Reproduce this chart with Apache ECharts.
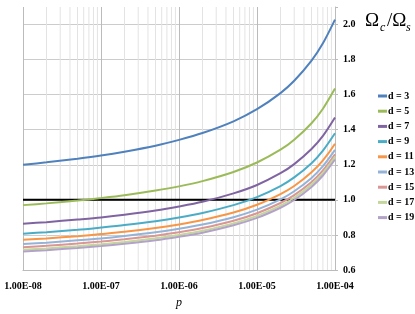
<!DOCTYPE html>
<html><head><meta charset="utf-8">
<script src="https://cdn.jsdelivr.net/npm/echarts@6/dist/echarts.min.js"></script>
<style>html,body{margin:0;padding:0;background:#fff}#c{width:415px;height:314px}</style>
</head><body><div id="c"></div>
<script>
// Probability values (x axis, log scale)
const pValues = [1e-8, 2e-8, 5e-8, 1e-7, 2e-7, 5e-7, 1e-6, 2e-6, 5e-6, 1e-5, 2e-5, 3e-5, 5e-5, 7e-5, 1e-4];
// Omega_c / Omega_s for each d
const d3  = [1.200, 1.214, 1.235, 1.253, 1.275, 1.309, 1.342, 1.381, 1.448, 1.517, 1.609, 1.679, 1.794, 1.893, 2.028];
const d5  = [0.970, 0.980, 0.996, 1.010, 1.026, 1.053, 1.077, 1.107, 1.159, 1.213, 1.286, 1.343, 1.437, 1.520, 1.635];
const d7  = [0.864, 0.873, 0.888, 0.900, 0.915, 0.939, 0.962, 0.989, 1.037, 1.085, 1.152, 1.204, 1.290, 1.365, 1.470];
const d9  = [0.807, 0.816, 0.829, 0.842, 0.856, 0.878, 0.899, 0.925, 0.970, 1.016, 1.079, 1.128, 1.209, 1.281, 1.380];
const d11 = [0.772, 0.780, 0.793, 0.805, 0.818, 0.840, 0.860, 0.885, 0.928, 0.972, 1.033, 1.079, 1.157, 1.225, 1.320];
const d13 = [0.748, 0.756, 0.769, 0.780, 0.794, 0.815, 0.835, 0.859, 0.901, 0.944, 1.003, 1.049, 1.125, 1.192, 1.285];
const d15 = [0.730, 0.738, 0.751, 0.762, 0.775, 0.796, 0.815, 0.839, 0.881, 0.924, 0.982, 1.027, 1.102, 1.168, 1.260];
const d17 = [0.715, 0.723, 0.736, 0.747, 0.760, 0.781, 0.800, 0.824, 0.866, 0.909, 0.967, 1.012, 1.087, 1.153, 1.245];
const d19 = [0.705, 0.713, 0.726, 0.737, 0.750, 0.770, 0.790, 0.813, 0.855, 0.897, 0.955, 0.999, 1.074, 1.139, 1.230];
const seriesNames = ['d = 3', 'd = 5', 'd = 7', 'd = 9', 'd = 11', 'd = 13', 'd = 15', 'd = 17', 'd = 19'];
const seriesValues = [d3, d5, d7, d9, d11, d13, d15, d17, d19];
const seriesColors = ['#4F81BD', '#9BBB59', '#8064A2', '#4BACC6', '#F79646', '#95B3D7', '#D99694', '#C3D69B', '#B3A2C7'];
const xTickLabels = ['1.00E-08', '1.00E-07', '1.00E-06', '1.00E-05', '1.00E-04'];
const referenceLevel = 1.0;
const yMin = 0.6, yMax = 2.1;

const FONT = "'Liberation Serif','Times New Roman',serif";
const minorGrid = [];
for (let e = -8; e < -4; e++) for (let m = 2; m <= 9; m++) minorGrid.push(m * Math.pow(10, e));

const chart = echarts.init(document.getElementById('c'), null, {renderer: 'canvas'});
const series = [];
// minor log gridlines (drawn through the axis scale)
minorGrid.forEach(v => series.push({
  type: 'line', silent: true, symbol: 'none', z: 1, data: [[v, yMin], [v, yMax]],
  lineStyle: {color: '#e3e3e3', width: 1}
}));
// reference line at 1.0
series.push({
  type: 'line', silent: true, symbol: 'none', z: 2, data: [[1e-8, referenceLevel], [1e-4, referenceLevel]],
  lineStyle: {color: '#000', width: 2}
});
seriesNames.forEach((n, i) => series.push({
  name: n, type: 'line', smooth: 0.3, symbol: 'none', showSymbol: false, z: 3,
  data: pValues.map((p, j) => [p, seriesValues[i][j]]),
  lineStyle: {width: 2, color: seriesColors[i]}, itemStyle: {color: seriesColors[i]}
}));

chart.setOption({
  animation: false,
  grid: {left: 23, right: 80, top: 7, bottom: 36, containLabel: false},
  xAxis: {
    type: 'log', logBase: 10, min: 1e-8, max: 1e-4,
    name: 'p', nameLocation: 'middle', nameGap: 27,
    nameTextStyle: {fontFamily: FONT, fontStyle: 'italic', fontSize: 12, color: '#000'},
    axisLine: {show: true, lineStyle: {color: '#bbbbbb', width: 1}},
    axisTick: {show: false},
    axisLabel: {fontFamily: FONT, fontWeight: 'bold', fontSize: 10, color: '#000', margin: 11,
      formatter: v => xTickLabels[Math.round(Math.log10(v)) + 8]},
    splitLine: {show: true, lineStyle: {color: '#bbbbbb', width: 1}}
  },
  yAxis: {
    type: 'value', position: 'right', min: yMin, max: yMax, interval: 0.2,
    axisLine: {show: true, lineStyle: {color: '#bbbbbb', width: 1}},
    axisTick: {show: true, inside: false, length: 3, lineStyle: {color: '#bbbbbb'}},
    axisLabel: {fontFamily: FONT, fontWeight: 'bold', fontSize: 10, color: '#000', margin: 8,
      formatter: v => (Math.abs(v - 2.1) < 1e-6 ? '' : v.toFixed(1))},
    splitLine: {show: true, lineStyle: {width: 1,
      color: ['#cccccc', '#cccccc', '#cccccc', '#cccccc', '#cccccc', '#cccccc', '#cccccc', '#cccccc', 'rgba(0,0,0,0)']}}
  },
  legend: {
    orient: 'vertical', left: 373, top: 85, itemWidth: 9, itemHeight: 3, itemGap: 3.2, icon: 'rect',
    textStyle: {fontFamily: FONT, fontWeight: 'bold', fontSize: 10, color: '#000', lineHeight: 12, padding: [0, 0, 0, -4]},
    data: seriesNames
  },
  graphic: [
    {type: 'text', x: 365, y: 21, style: {text: 'Ω', font: "19px " + FONT, fill: '#000', verticalAlign: 'middle'}},
    {type: 'text', x: 380, y: 28, style: {text: 'c', font: "italic 12px " + FONT, fill: '#000', verticalAlign: 'middle'}},
    {type: 'text', x: 387, y: 21, style: {text: '/Ω', font: "19px " + FONT, fill: '#000', verticalAlign: 'middle'}},
    {type: 'text', x: 406, y: 28, style: {text: 's', font: "italic 12px " + FONT, fill: '#000', verticalAlign: 'middle'}}
  ],
  series: series
});
</script></body></html>
